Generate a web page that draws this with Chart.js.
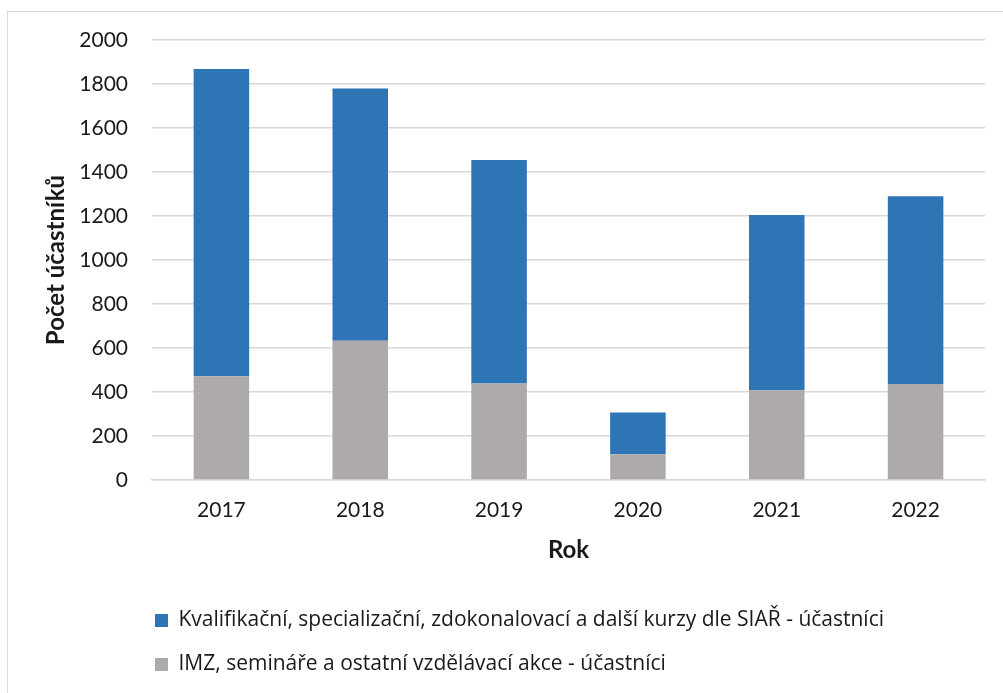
<!DOCTYPE html>
<html>
<head>
<meta charset="utf-8">
<script src="https://cdn.jsdelivr.net/npm/chart.js@4.4.1/dist/chart.umd.min.js"></script>
<style>
  html, body { margin: 0; padding: 0; background: #fff; }
  #wrap { position: relative; width: 1003px; height: 693px; overflow: hidden; }
  #frame { position: absolute; left: 7px; top: 11px; width: 1100px; height: 800px;
           border-left: 1px solid #d9d9d9; border-top: 1px solid #d9d9d9; }
  canvas { position: absolute; left: 0; top: 0; }
</style>
</head>
<body>
<div id="wrap">
  <div id="frame"></div>
  <canvas id="c" width="1003" height="693"></canvas>
</div>
<script>
const categories = ['2017', '2018', '2019', '2020', '2021', '2022'];
const kurzyValues = [1396, 1147, 1015, 190, 797, 854];
const imzValues = [472, 633, 439, 117, 408, 436];
const kurzyLabel = 'Kvalifikační, specializační, zdokonalovací a další kurzy dle SIAŘ - účastníci';
const imzLabel = 'IMZ, semináře a ostatní vzdělávací akce - účastníci';
const yTitle = 'Počet účastníků';
const xTitle = 'Rok';

const FONT = 'Lato, "Open Sans", sans-serif';
const LEGEND_FONT = '"Open Sans", Lato, sans-serif';

const legendShift = {
  id: 'legendShift',
  afterLayout(chart) {
    if (chart.legend) { chart.legend.left = 132; }
  }
};

new Chart(document.getElementById('c'), {
  type: 'bar',
  data: {
    labels: categories,
    datasets: [
      { label: imzLabel, data: imzValues, backgroundColor: '#AEAAAA', borderWidth: 0 },
      { label: kurzyLabel, data: kurzyValues, backgroundColor: '#2E75B6', borderWidth: 0 }
    ]
  },
  options: {
    responsive: false,
    animation: false,
    devicePixelRatio: 1,
    layout: { padding: { left: 0, right: 18, top: 40, bottom: 8 } },
    datasets: { bar: { categoryPercentage: 1.0, barPercentage: 0.4 } },
    plugins: {
      tooltip: { enabled: false },
      legend: {
        position: 'bottom',
        align: 'start',
        reverse: true,
        labels: {
          boxWidth: 13,
          boxHeight: 13,
          padding: 23,
          color: '#1a1a1a',
          font: { family: LEGEND_FONT, size: 21 }
        }
      }
    },
    scales: {
      x: {
        stacked: true,
        grid: { display: false, drawTicks: false },
        border: { display: true, color: '#d9d9d9', width: 1.5 },
        ticks: { color: '#1a1a1a', padding: 18, font: { family: FONT, size: 21 } },
        title: { display: true, text: xTitle, color: '#1a1a1a',
                 font: { family: FONT, size: 24, weight: 'bold' }, padding: { top: 0, bottom: 22 } },
        afterFit(scale) { scale.height = 107; }
      },
      y: {
        stacked: true,
        min: 0,
        max: 2000,
        ticks: { stepSize: 200, color: '#1a1a1a', padding: 24, font: { family: FONT, size: 21 },
                 callback: (v) => String(v) },
        grid: { color: '#d9d9d9', lineWidth: 1.5, drawTicks: false },
        border: { display: false },
        title: { display: true, text: yTitle, color: '#1a1a1a',
                 font: { family: FONT, size: 24, weight: 'bold' }, padding: { top: 42, bottom: 0 } },
        afterFit(scale) { scale.width = 152; }
      }
    }
  },
  plugins: [legendShift]
});
</script>
</body>
</html>
